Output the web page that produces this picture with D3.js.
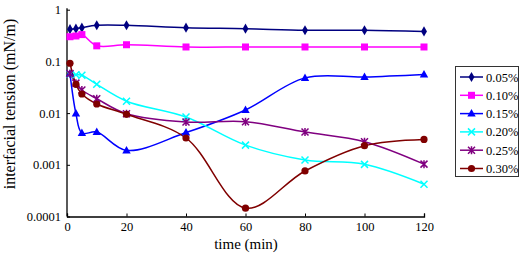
<!DOCTYPE html>
<html>
<head>
<meta charset="utf-8">
<script src="https://cdn.jsdelivr.net/npm/d3@7"></script>
<style>
  body { margin: 0; background: #fff; }
  svg { display: block; font-family: "Liberation Serif", "Times New Roman", serif; }
</style>
</head>
<body>
<svg id="chart"></svg>
<script>
// Width and height of the chart
const width = 520;
const height = 255;

// time points (min)
const times = [1, 3, 5, 10, 20, 40, 60, 80, 100, 120];

// interfacial tension (mN/m) for each concentration
const c005 = [0.42, 0.43, 0.45, 0.50, 0.50, 0.45, 0.43, 0.40, 0.40, 0.38];
const c010 = [0.30, 0.31, 0.33, 0.20, 0.21, 0.19, 0.19, 0.19, 0.19, 0.19];
const c015 = [0.058, 0.0098, 0.0041, 0.0043, 0.0019, 0.0042, 0.0115, 0.048, 0.050, 0.056];
const c020 = [0.057, 0.055, 0.054, 0.036, 0.017, 0.0084, 0.0024, 0.00124, 0.00102, 0.00042];
const c025 = [0.058, 0.038, 0.028, 0.019, 0.0097, 0.0067, 0.0068, 0.0043, 0.0028, 0.00103];
const c030 = [0.092, 0.036, 0.0234, 0.015, 0.0095, 0.0033, 0.000145, 0.00076, 0.00234, 0.0031];

const seriesNames = ["0.05%", "0.10%", "0.15%", "0.20%", "0.25%", "0.30%"];
const seriesValues = [c005, c010, c015, c020, c025, c030];
const seriesColors = ["#000080", "#ff00ff", "#0000ff", "#00ffff", "#800080", "#800000"];
const seriesMarkers = ["diamond", "square", "triangle", "cross", "star", "circle"];

const xTicks = [0, 20, 40, 60, 80, 100, 120];
const yTicks = [0.0001, 0.001, 0.01, 0.1, 1];
const yTickLabels = ["0.0001", "0.001", "0.01", "0.1", "1"];

const svg = d3.select("#chart")
  .attr("width", width)
  .attr("height", height);

// scales
const x = d3.scaleLinear().domain([0, 120]).range([67, 424]);
const y = d3.scaleLog().domain([0.0001, 1]).range([216.5, 9.7]);

// axes
const xAxis = svg.append("g")
  .attr("transform", `translate(0,${y(0.0001)})`)
  .call(d3.axisBottom(x).tickValues(xTicks).tickSize(-3).tickPadding(6));

const yAxis = svg.append("g")
  .attr("transform", `translate(${x(0)},0)`)
  .call(d3.axisLeft(y).tickValues(yTicks).tickFormat((d, i) => yTickLabels[i]).tickSize(-3).tickPadding(6));

[xAxis, yAxis].forEach(function(a) {
  a.select(".domain").attr("stroke", "#000").attr("stroke-width", 1.3);
  a.selectAll(".tick line").attr("stroke", "#000");
  a.selectAll(".tick text")
    .attr("fill", "#000")
    .style("font-family", "Liberation Serif, serif")
    .style("font-size", "12.5px");
});
yAxis.select(".domain").attr("d", `M0,${y(0.0001)}V${y(1) - 1.5}`);

// axis titles
svg.append("text")
  .attr("x", 246)
  .attr("y", 249)
  .attr("text-anchor", "middle")
  .style("font-size", "15px")
  .text("time (min)");

svg.append("text")
  .attr("transform", "translate(14.5,104) rotate(-90)")
  .attr("text-anchor", "middle")
  .style("font-size", "16px")
  .text("interfacial tension (mN/m)");

// marker drawing helper
function drawMarker(g, type, color) {
  if (type === "diamond") {
    g.append("path").attr("d", d3.symbol(d3.symbolDiamond, 30)()).attr("fill", color);
  } else if (type === "square") {
    g.append("rect").attr("x", -3.5).attr("y", -3.5).attr("width", 7).attr("height", 7).attr("fill", color);
  } else if (type === "triangle") {
    g.append("path").attr("d", "M0,-4.5L4.2,3L-4.2,3Z").attr("fill", color);
  } else if (type === "cross") {
    g.append("path").attr("d", "M-3.5,-3.5L3.5,3.5M-3.5,3.5L3.5,-3.5")
      .attr("stroke", color).attr("stroke-width", 1.5).attr("fill", "none");
  } else if (type === "star") {
    g.append("path").attr("d", "M-3.5,-3.5L3.5,3.5M-3.5,3.5L3.5,-3.5M0,-4L0,4")
      .attr("stroke", color).attr("stroke-width", 1.5).attr("fill", "none");
  } else {
    g.append("circle").attr("r", 3.6).attr("fill", color);
  }
}

// smoothed lines
const line = d3.line()
  .x((d, i) => x(times[i]))
  .y(d => y(d))
  .curve(d3.curveCatmullRom.alpha(0.5));

seriesValues.forEach(function(vals, s) {
  svg.append("path")
    .datum(vals)
    .attr("fill", "none")
    .attr("stroke", seriesColors[s])
    .attr("stroke-width", 1.5)
    .attr("d", line);
});

seriesValues.forEach(function(vals, s) {
  svg.selectAll(".pt" + s)
    .data(vals)
    .enter()
    .append("g")
    .attr("class", "pt" + s)
    .attr("transform", (d, i) => `translate(${x(times[i])},${y(d)})`)
    .each(function() { drawMarker(d3.select(this), seriesMarkers[s], seriesColors[s]); });
});

// legend
const legend = svg.append("g");
legend.append("rect")
  .attr("x", 455.5).attr("y", 66.5)
  .attr("width", 63).attr("height", 110)
  .attr("fill", "#fff").attr("stroke", "#333").attr("stroke-width", 1);

seriesNames.forEach(function(name, s) {
  const ly = 77 + s * 18.3;
  legend.append("line")
    .attr("x1", 460).attr("x2", 483).attr("y1", ly).attr("y2", ly)
    .attr("stroke", seriesColors[s]).attr("stroke-width", 1.5);
  const m = legend.append("g").attr("transform", `translate(471.5,${ly})`);
  drawMarker(m, seriesMarkers[s], seriesColors[s]);
  legend.append("text")
    .attr("x", 486).attr("y", ly + 4.5)
    .style("font-size", "12.5px")
    .text(name);
});
</script>
</body>
</html>
